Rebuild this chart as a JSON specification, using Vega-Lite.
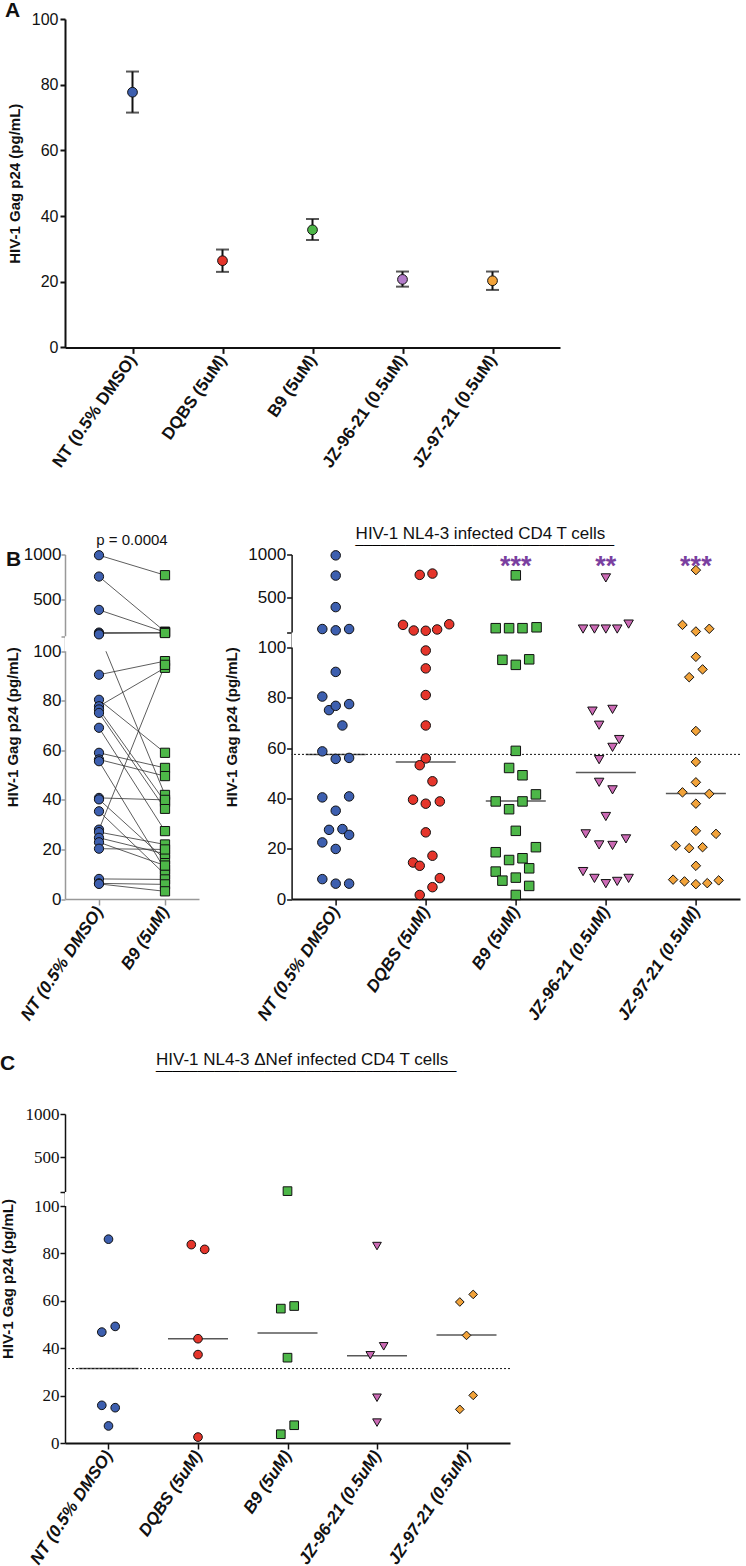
{
  "$schema": "https://vega.github.io/schema/vega-lite/v6.json",
  "padding": 0,
  "autosize": {"type": "pad"},
  "config": {
    "view": {"stroke": null},
    "font": "Liberation Sans",
    "axis": {"grid": false, "labelFont": "Liberation Sans", "titleFont": "Liberation Sans", "labelColor": "#111", "titleColor": "#111", "domainColor": "#111", "tickColor": "#111"},
    "title": {"font": "Liberation Sans", "color": "#111"}
  },
  "datasets": {
    "a": [
      {"g": "NT (0.5% DMSO)", "mean": 77.7, "lo": 71.5, "hi": 84.0},
      {"g": "DQBS (5uM)", "mean": 26.4, "lo": 23.0, "hi": 29.8},
      {"g": "B9 (5uM)", "mean": 35.8, "lo": 32.7, "hi": 39.1},
      {"g": "JZ-96-21 (0.5uM)", "mean": 20.7, "lo": 18.5, "hi": 23.1},
      {"g": "JZ-97-21 (0.5uM)", "mean": 20.3, "lo": 17.5, "hi": 23.1}
    ],
    "bl": [
      {"pair": 1, "g": "NT (0.5% DMSO)", "v": 992}, {"pair": 1, "g": "B9 (5uM)", "v": 772},
      {"pair": 2, "g": "NT (0.5% DMSO)", "v": 757}, {"pair": 2, "g": "B9 (5uM)", "v": 150},
      {"pair": 3, "g": "NT (0.5% DMSO)", "v": 390}, {"pair": 3, "g": "B9 (5uM)", "v": 145},
      {"pair": 4, "g": "NT (0.5% DMSO)", "v": 140}, {"pair": 4, "g": "B9 (5uM)", "v": 140},
      {"pair": 5, "g": "NT (0.5% DMSO)", "v": 130}, {"pair": 5, "g": "B9 (5uM)", "v": 135},
      {"pair": 6, "g": "NT (0.5% DMSO)", "v": 120}, {"pair": 6, "g": "B9 (5uM)", "v": 42},
      {"pair": 7, "g": "NT (0.5% DMSO)", "v": 90.5}, {"pair": 7, "g": "B9 (5uM)", "v": 96},
      {"pair": 8, "g": "NT (0.5% DMSO)", "v": 80.4}, {"pair": 8, "g": "B9 (5uM)", "v": 59},
      {"pair": 9, "g": "NT (0.5% DMSO)", "v": 77.8}, {"pair": 9, "g": "B9 (5uM)", "v": 93.3},
      {"pair": 10, "g": "NT (0.5% DMSO)", "v": 76.5}, {"pair": 10, "g": "B9 (5uM)", "v": 39.2},
      {"pair": 11, "g": "NT (0.5% DMSO)", "v": 75.1}, {"pair": 11, "g": "B9 (5uM)", "v": 36.4},
      {"pair": 12, "g": "NT (0.5% DMSO)", "v": 69.1}, {"pair": 12, "g": "B9 (5uM)", "v": 27.4},
      {"pair": 13, "g": "NT (0.5% DMSO)", "v": 59.0}, {"pair": 13, "g": "B9 (5uM)", "v": 52.9},
      {"pair": 14, "g": "NT (0.5% DMSO)", "v": 56.3}, {"pair": 14, "g": "B9 (5uM)", "v": 49.6},
      {"pair": 15, "g": "NT (0.5% DMSO)", "v": 55.6}, {"pair": 15, "g": "B9 (5uM)", "v": 11.9},
      {"pair": 16, "g": "NT (0.5% DMSO)", "v": 40.8}, {"pair": 16, "g": "B9 (5uM)", "v": 40},
      {"pair": 17, "g": "NT (0.5% DMSO)", "v": 40.2}, {"pair": 17, "g": "B9 (5uM)", "v": 16},
      {"pair": 18, "g": "NT (0.5% DMSO)", "v": 35.4}, {"pair": 18, "g": "B9 (5uM)", "v": 9.9},
      {"pair": 19, "g": "NT (0.5% DMSO)", "v": 28.0}, {"pair": 19, "g": "B9 (5uM)", "v": 94.5},
      {"pair": 20, "g": "NT (0.5% DMSO)", "v": 27.0}, {"pair": 20, "g": "B9 (5uM)", "v": 22},
      {"pair": 21, "g": "NT (0.5% DMSO)", "v": 24.7}, {"pair": 21, "g": "B9 (5uM)", "v": 18.2},
      {"pair": 22, "g": "NT (0.5% DMSO)", "v": 22.9}, {"pair": 22, "g": "B9 (5uM)", "v": 13.5},
      {"pair": 23, "g": "NT (0.5% DMSO)", "v": 20.3}, {"pair": 23, "g": "B9 (5uM)", "v": 20},
      {"pair": 24, "g": "NT (0.5% DMSO)", "v": 8.1}, {"pair": 24, "g": "B9 (5uM)", "v": 7.9},
      {"pair": 25, "g": "NT (0.5% DMSO)", "v": 6.3}, {"pair": 25, "g": "B9 (5uM)", "v": 5.9},
      {"pair": 26, "g": "NT (0.5% DMSO)", "v": 6.1}, {"pair": 26, "g": "B9 (5uM)", "v": 3.1}
    ],
    "br": [
      {"g": "NT (0.5% DMSO)", "v": 990, "s": 0}, {"g": "NT (0.5% DMSO)", "v": 757, "s": 0}, {"g": "NT (0.5% DMSO)", "v": 393, "s": 0},
      {"g": "NT (0.5% DMSO)", "v": 140, "s": -2}, {"g": "NT (0.5% DMSO)", "v": 125, "s": 0}, {"g": "NT (0.5% DMSO)", "v": 140, "s": 2},
      {"g": "NT (0.5% DMSO)", "v": 90.3, "s": 0}, {"g": "NT (0.5% DMSO)", "v": 80.5, "s": -2}, {"g": "NT (0.5% DMSO)", "v": 75.1, "s": -1},
      {"g": "NT (0.5% DMSO)", "v": 76.8, "s": 0}, {"g": "NT (0.5% DMSO)", "v": 77.5, "s": 2}, {"g": "NT (0.5% DMSO)", "v": 69.0, "s": 1},
      {"g": "NT (0.5% DMSO)", "v": 58.7, "s": -2}, {"g": "NT (0.5% DMSO)", "v": 55.7, "s": 0}, {"g": "NT (0.5% DMSO)", "v": 56.1, "s": 2},
      {"g": "NT (0.5% DMSO)", "v": 40.4, "s": -2}, {"g": "NT (0.5% DMSO)", "v": 40.8, "s": 2}, {"g": "NT (0.5% DMSO)", "v": 35.1, "s": 0},
      {"g": "NT (0.5% DMSO)", "v": 27.5, "s": -1}, {"g": "NT (0.5% DMSO)", "v": 27.8, "s": 1}, {"g": "NT (0.5% DMSO)", "v": 25.5, "s": 2},
      {"g": "NT (0.5% DMSO)", "v": 22.5, "s": -2}, {"g": "NT (0.5% DMSO)", "v": 19.9, "s": 0}, {"g": "NT (0.5% DMSO)", "v": 7.9, "s": -2},
      {"g": "NT (0.5% DMSO)", "v": 6.1, "s": 0}, {"g": "NT (0.5% DMSO)", "v": 6.1, "s": 2},
      {"g": "DQBS (5uM)", "v": 765, "s": -0.9}, {"g": "DQBS (5uM)", "v": 780, "s": 1.0}, {"g": "DQBS (5uM)", "v": 188, "s": -3.4},
      {"g": "DQBS (5uM)", "v": 123, "s": -1.8}, {"g": "DQBS (5uM)", "v": 120, "s": 0}, {"g": "DQBS (5uM)", "v": 135, "s": 1.7},
      {"g": "DQBS (5uM)", "v": 195, "s": 3.5}, {"g": "DQBS (5uM)", "v": 98.8, "s": 0}, {"g": "DQBS (5uM)", "v": 91.7, "s": 0},
      {"g": "DQBS (5uM)", "v": 81.1, "s": 0}, {"g": "DQBS (5uM)", "v": 69.0, "s": 0}, {"g": "DQBS (5uM)", "v": 55.9, "s": 0},
      {"g": "DQBS (5uM)", "v": 53.2, "s": -0.9}, {"g": "DQBS (5uM)", "v": 46.8, "s": 1.0}, {"g": "DQBS (5uM)", "v": 39.5, "s": -1.9},
      {"g": "DQBS (5uM)", "v": 37.9, "s": 0}, {"g": "DQBS (5uM)", "v": 38.8, "s": 2.1}, {"g": "DQBS (5uM)", "v": 26.5, "s": 0},
      {"g": "DQBS (5uM)", "v": 14.5, "s": -1.9}, {"g": "DQBS (5uM)", "v": 13.2, "s": -0.9}, {"g": "DQBS (5uM)", "v": 17.2, "s": 1.0},
      {"g": "DQBS (5uM)", "v": 8.3, "s": 2.1}, {"g": "DQBS (5uM)", "v": 4.7, "s": 1.0}, {"g": "DQBS (5uM)", "v": 1.6, "s": -0.9},
      {"g": "B9 (5uM)", "v": 760, "s": 0}, {"g": "B9 (5uM)", "v": 150, "s": -3}, {"g": "B9 (5uM)", "v": 150, "s": -1},
      {"g": "B9 (5uM)", "v": 150, "s": 1}, {"g": "B9 (5uM)", "v": 160, "s": 3.1}, {"g": "B9 (5uM)", "v": 95.1, "s": -2},
      {"g": "B9 (5uM)", "v": 93.1, "s": 0}, {"g": "B9 (5uM)", "v": 95.3, "s": 2}, {"g": "B9 (5uM)", "v": 58.9, "s": 0},
      {"g": "B9 (5uM)", "v": 52.1, "s": -1}, {"g": "B9 (5uM)", "v": 49.2, "s": 1}, {"g": "B9 (5uM)", "v": 41.6, "s": 3},
      {"g": "B9 (5uM)", "v": 38.8, "s": -3}, {"g": "B9 (5uM)", "v": 38.8, "s": 1}, {"g": "B9 (5uM)", "v": 35.7, "s": -1},
      {"g": "B9 (5uM)", "v": 27.1, "s": 0}, {"g": "B9 (5uM)", "v": 18.6, "s": -3}, {"g": "B9 (5uM)", "v": 15.5, "s": -1},
      {"g": "B9 (5uM)", "v": 16.2, "s": 1}, {"g": "B9 (5uM)", "v": 20.6, "s": 3}, {"g": "B9 (5uM)", "v": 10.9, "s": -3},
      {"g": "B9 (5uM)", "v": 12.2, "s": 2}, {"g": "B9 (5uM)", "v": 7.3, "s": -2}, {"g": "B9 (5uM)", "v": 8.5, "s": 0},
      {"g": "B9 (5uM)", "v": 5.2, "s": 2}, {"g": "B9 (5uM)", "v": 1.6, "s": 0},
      {"g": "JZ-96-21 (0.5uM)", "v": 730, "s": 0}, {"g": "JZ-96-21 (0.5uM)", "v": 140, "s": -3.4}, {"g": "JZ-96-21 (0.5uM)", "v": 140, "s": -1.7},
      {"g": "JZ-96-21 (0.5uM)", "v": 140, "s": 0}, {"g": "JZ-96-21 (0.5uM)", "v": 140, "s": 1.7}, {"g": "JZ-96-21 (0.5uM)", "v": 197, "s": 3.4},
      {"g": "JZ-96-21 (0.5uM)", "v": 74.7, "s": -2}, {"g": "JZ-96-21 (0.5uM)", "v": 75.4, "s": 1}, {"g": "JZ-96-21 (0.5uM)", "v": 69.1, "s": -1},
      {"g": "JZ-96-21 (0.5uM)", "v": 63.4, "s": 2}, {"g": "JZ-96-21 (0.5uM)", "v": 60.3, "s": 1}, {"g": "JZ-96-21 (0.5uM)", "v": 55.4, "s": -1},
      {"g": "JZ-96-21 (0.5uM)", "v": 46.4, "s": -1}, {"g": "JZ-96-21 (0.5uM)", "v": 43.4, "s": 1}, {"g": "JZ-96-21 (0.5uM)", "v": 32.8, "s": 0},
      {"g": "JZ-96-21 (0.5uM)", "v": 25.9, "s": -3}, {"g": "JZ-96-21 (0.5uM)", "v": 21.5, "s": -1}, {"g": "JZ-96-21 (0.5uM)", "v": 21.3, "s": 1},
      {"g": "JZ-96-21 (0.5uM)", "v": 23.9, "s": 3}, {"g": "JZ-96-21 (0.5uM)", "v": 10.9, "s": -3.4}, {"g": "JZ-96-21 (0.5uM)", "v": 8.2, "s": -1.7},
      {"g": "JZ-96-21 (0.5uM)", "v": 6.1, "s": 0}, {"g": "JZ-96-21 (0.5uM)", "v": 7.0, "s": 1.7}, {"g": "JZ-96-21 (0.5uM)", "v": 8.2, "s": 3.4},
      {"g": "JZ-97-21 (0.5uM)", "v": 820, "s": 0}, {"g": "JZ-97-21 (0.5uM)", "v": 188, "s": -2}, {"g": "JZ-97-21 (0.5uM)", "v": 112, "s": 0},
      {"g": "JZ-97-21 (0.5uM)", "v": 143, "s": 2}, {"g": "JZ-97-21 (0.5uM)", "v": 96.3, "s": 0}, {"g": "JZ-97-21 (0.5uM)", "v": 91.3, "s": 1},
      {"g": "JZ-97-21 (0.5uM)", "v": 88.2, "s": -1}, {"g": "JZ-97-21 (0.5uM)", "v": 66.8, "s": 0}, {"g": "JZ-97-21 (0.5uM)", "v": 54.5, "s": 0},
      {"g": "JZ-97-21 (0.5uM)", "v": 46.4, "s": 0}, {"g": "JZ-97-21 (0.5uM)", "v": 42.4, "s": -2}, {"g": "JZ-97-21 (0.5uM)", "v": 41.8, "s": 2},
      {"g": "JZ-97-21 (0.5uM)", "v": 37.9, "s": 0}, {"g": "JZ-97-21 (0.5uM)", "v": 27.1, "s": 0}, {"g": "JZ-97-21 (0.5uM)", "v": 25.9, "s": 3},
      {"g": "JZ-97-21 (0.5uM)", "v": 21.2, "s": -3}, {"g": "JZ-97-21 (0.5uM)", "v": 20.2, "s": -1}, {"g": "JZ-97-21 (0.5uM)", "v": 20.6, "s": 1},
      {"g": "JZ-97-21 (0.5uM)", "v": 13.2, "s": 0}, {"g": "JZ-97-21 (0.5uM)", "v": 7.7, "s": -3.4}, {"g": "JZ-97-21 (0.5uM)", "v": 7.0, "s": -1.7},
      {"g": "JZ-97-21 (0.5uM)", "v": 5.9, "s": 0}, {"g": "JZ-97-21 (0.5uM)", "v": 6.3, "s": 1.7}, {"g": "JZ-97-21 (0.5uM)", "v": 7.4, "s": 3.4}
    ],
    "br_med": [
      {"g": "NT (0.5% DMSO)", "m": 57.5}, {"g": "DQBS (5uM)", "m": 54.5}, {"g": "B9 (5uM)", "m": 39.0},
      {"g": "JZ-96-21 (0.5uM)", "m": 50.3}, {"g": "JZ-97-21 (0.5uM)", "m": 41.9}
    ],
    "br_sig": [
      {"g": "B9 (5uM)", "sig": "***"}, {"g": "JZ-96-21 (0.5uM)", "sig": "**"}, {"g": "JZ-97-21 (0.5uM)", "sig": "***"}
    ],
    "c": [
      {"g": "NT (0.5% DMSO)", "v": 86, "s": 0}, {"g": "NT (0.5% DMSO)", "v": 49.2, "s": 1}, {"g": "NT (0.5% DMSO)", "v": 46.8, "s": -1},
      {"g": "NT (0.5% DMSO)", "v": 15.9, "s": -1}, {"g": "NT (0.5% DMSO)", "v": 14.9, "s": 1}, {"g": "NT (0.5% DMSO)", "v": 7.2, "s": 0},
      {"g": "DQBS (5uM)", "v": 83.7, "s": -1}, {"g": "DQBS (5uM)", "v": 81.7, "s": 1}, {"g": "DQBS (5uM)", "v": 44.0, "s": 0},
      {"g": "DQBS (5uM)", "v": 37.3, "s": 0}, {"g": "DQBS (5uM)", "v": 2.5, "s": 0},
      {"g": "B9 (5uM)", "v": 110, "s": 0}, {"g": "B9 (5uM)", "v": 56.7, "s": -1}, {"g": "B9 (5uM)", "v": 57.8, "s": 1},
      {"g": "B9 (5uM)", "v": 36.0, "s": 0}, {"g": "B9 (5uM)", "v": 3.7, "s": -1}, {"g": "B9 (5uM)", "v": 7.5, "s": 1},
      {"g": "JZ-96-21 (0.5uM)", "v": 83.1, "s": 0}, {"g": "JZ-96-21 (0.5uM)", "v": 37.0, "s": -1}, {"g": "JZ-96-21 (0.5uM)", "v": 40.8, "s": 1},
      {"g": "JZ-96-21 (0.5uM)", "v": 19.1, "s": 0}, {"g": "JZ-96-21 (0.5uM)", "v": 8.6, "s": 0},
      {"g": "JZ-97-21 (0.5uM)", "v": 59.5, "s": -1}, {"g": "JZ-97-21 (0.5uM)", "v": 62.7, "s": 1}, {"g": "JZ-97-21 (0.5uM)", "v": 45.4, "s": 0},
      {"g": "JZ-97-21 (0.5uM)", "v": 20.1, "s": 1}, {"g": "JZ-97-21 (0.5uM)", "v": 14.2, "s": -1}
    ],
    "c_med": [
      {"g": "NT (0.5% DMSO)", "m": 31.4}, {"g": "DQBS (5uM)", "m": 44.0}, {"g": "B9 (5uM)", "m": 46.4},
      {"g": "JZ-96-21 (0.5uM)", "m": 36.8}, {"g": "JZ-97-21 (0.5uM)", "m": 45.6}
    ]
  },
  "columns": 1,
  "align": "none",
  "bounds": "full",
  "spacing": 28,
  "resolve": {"scale": {"fill": "independent", "shape": "independent"}},
  "concat": [
    {
      "columns": 1,
      "align": "none",
      "bounds": "full",
      "spacing": 53.5,
      "resolve": {"scale": {"fill": "independent", "shape": "independent"}},
      "concat": [
        {
          "width": 495,
          "height": 328.4,
          "title": {"text": "A", "anchor": "start", "frame": "group", "fontSize": 21, "fontWeight": "bold", "dx": -60, "dy": 10, "offset": 0},
          "data": {"name": "a"},
          "layer": [
            {
              "mark": {"type": "rule", "strokeWidth": 2, "color": "#111"},
              "encoding": {
                "x": {"field": "g", "type": "nominal", "sort": ["NT (0.5% DMSO)", "DQBS (5uM)", "B9 (5uM)", "JZ-96-21 (0.5uM)", "JZ-97-21 (0.5uM)"], "scale": {"type": "point", "padding": 0.75},
                  "axis": {"title": null, "labelAngle": -55, "labelFontSize": 17, "labelFontWeight": "bold", "domainWidth": 2, "tickWidth": 2, "tickSize": 6, "labelPadding": 3}},
                "y": {"field": "lo", "type": "quantitative", "title": "HIV-1 Gag p24 (pg/mL)", "scale": {"domain": [0, 100], "nice": false},
                  "axis": {"values": [0, 20, 40, 60, 80, 100], "labelFontSize": 16, "titleFontSize": 15, "titleFontWeight": "bold", "domainWidth": 2, "tickWidth": 2, "tickSize": 5, "labelPadding": 2, "titlePadding": 9}},
                "y2": {"field": "hi"}
              }
            },
            {
              "mark": {"type": "tick", "orient": "horizontal", "size": 13, "thickness": 2, "color": "#111"},
              "encoding": {
                "x": {"field": "g", "type": "nominal", "sort": ["NT (0.5% DMSO)", "DQBS (5uM)", "B9 (5uM)", "JZ-96-21 (0.5uM)", "JZ-97-21 (0.5uM)"]},
                "y": {"field": "lo", "type": "quantitative", "title": "HIV-1 Gag p24 (pg/mL)"}
              }
            },
            {
              "mark": {"type": "tick", "orient": "horizontal", "size": 13, "thickness": 2, "color": "#111"},
              "encoding": {
                "x": {"field": "g", "type": "nominal", "sort": ["NT (0.5% DMSO)", "DQBS (5uM)", "B9 (5uM)", "JZ-96-21 (0.5uM)", "JZ-97-21 (0.5uM)"]},
                "y": {"field": "hi", "type": "quantitative", "title": "HIV-1 Gag p24 (pg/mL)"}
              }
            },
            {
              "mark": {"type": "point", "filled": true, "size": 95, "stroke": "#111", "strokeWidth": 1, "opacity": 1},
              "encoding": {
                "x": {"field": "g", "type": "nominal", "sort": ["NT (0.5% DMSO)", "DQBS (5uM)", "B9 (5uM)", "JZ-96-21 (0.5uM)", "JZ-97-21 (0.5uM)"]},
                "y": {"field": "mean", "type": "quantitative", "title": "HIV-1 Gag p24 (pg/mL)"},
                "fill": {"field": "g", "type": "nominal", "legend": null,
                  "scale": {"domain": ["NT (0.5% DMSO)", "DQBS (5uM)", "B9 (5uM)", "JZ-96-21 (0.5uM)", "JZ-97-21 (0.5uM)"], "range": ["#3D5FAF", "#E5352B", "#4DB748", "#B27BC9", "#F2A33A"]}}
              }
            }
          ]
        },
        {
          "hconcat": [
            {
              "width": 134,
              "height": 344.5,
              "title": {"text": "p = 0.0004", "anchor": "middle", "fontSize": 15, "fontWeight": "normal", "offset": -2.5},
              "layer": [
                {
                  "data": {"name": "bl"},
                  "mark": {"type": "line", "stroke": "#333", "strokeWidth": 0.8},
                  "encoding": {
                    "x": {"field": "g", "type": "nominal", "sort": ["NT (0.5% DMSO)", "B9 (5uM)"], "scale": {"type": "point", "padding": 0.515},
                      "axis": {"title": null, "labelAngle": -56, "labelFontSize": 17, "labelFontWeight": "bold", "labelFontStyle": "italic", "domainColor": "#999", "tickColor": "#999", "domainWidth": 1.5, "tickWidth": 1.5, "tickSize": 6, "labelPadding": 3}},
                    "y": {"field": "v", "type": "quantitative", "title": "HIV-1 Gag p24 (pg/mL)",
                      "scale": {"domain": [0, 100, 100.001, 1000], "range": [344.5, 96.7, 81.7, 0], "nice": false, "zero": false},
                      "axis": {"values": [0, 20, 40, 60, 80, 100, 100.001, 500, 1000], "format": "d", "labelExpr": "datum.value > 100 && datum.value < 101 ? '' : datum.label", "labelFontSize": 17, "titleFontSize": 15, "titleFontWeight": "bold", "domainColor": "#999", "tickColor": "#999", "domainWidth": 1.5, "tickWidth": 1.5, "tickSize": 4, "labelPadding": 0, "titlePadding": 3}},
                    "detail": {"field": "pair", "type": "nominal"}
                  }
                },
                {
                  "data": {"values": [{"gap_low": 100, "gap_high": 100.001}]},
                  "mark": {"type": "rect", "fill": "white"},
                  "encoding": {
                    "y": {"field": "gap_low", "type": "quantitative", "title": "HIV-1 Gag p24 (pg/mL)"},
                    "y2": {"field": "gap_high"}
                  }
                },
                {
                  "data": {"name": "bl"},
                  "mark": {"type": "point", "filled": true, "size": 85, "stroke": "#111", "strokeWidth": 1, "opacity": 1},
                  "encoding": {
                    "x": {"field": "g", "type": "nominal", "sort": ["NT (0.5% DMSO)", "B9 (5uM)"]},
                    "y": {"field": "v", "type": "quantitative", "title": "HIV-1 Gag p24 (pg/mL)"},
                    "fill": {"field": "g", "type": "nominal", "legend": null, "scale": {"domain": ["NT (0.5% DMSO)", "B9 (5uM)"], "range": ["#3D5FAF", "#4DB748"]}},
                    "shape": {"field": "g", "type": "nominal", "legend": null, "scale": {"domain": ["NT (0.5% DMSO)", "B9 (5uM)"], "range": ["circle", "square"]}}
                  }
                }
              ]
            },
            {
              "width": 448.4,
              "height": 344.5,
              "title": {"text": "HIV-1 NL4-3 infected CD4 T cells", "subtitle": "_______________________________", "anchor": "start", "frame": "group", "dx": 64, "fontSize": 17, "fontWeight": "normal", "subtitleFontSize": 15, "subtitlePadding": -12, "offset": -1},
              "layer": [
                {
                  "data": {"values": [{"nt_median": 57.5}]},
                  "mark": {"type": "rule", "strokeDash": [2, 2], "strokeWidth": 1, "color": "#111"},
                  "encoding": {
                    "y": {"field": "nt_median", "type": "quantitative", "title": "HIV-1 Gag p24 (pg/mL)",
                      "scale": {"domain": [0, 100, 100.001, 1000], "range": [344.5, 93, 78, 0], "nice": false, "zero": false},
                      "axis": {"values": [0, 20, 40, 60, 80, 100, 100.001, 500, 1000], "format": "d", "labelExpr": "datum.value > 100 && datum.value < 101 ? '' : datum.label", "labelFontSize": 17, "titleFontSize": 15, "titleFontWeight": "bold", "domainWidth": 1.5, "tickWidth": 1.5, "tickSize": 5, "labelPadding": 1, "titlePadding": 8}}
                  }
                },
                {
                  "data": {"values": [{"gap_low": 100, "gap_high": 100.001}]},
                  "mark": {"type": "rect", "fill": "white"},
                  "encoding": {
                    "y": {"field": "gap_low", "type": "quantitative", "title": "HIV-1 Gag p24 (pg/mL)"},
                    "y2": {"field": "gap_high"}
                  }
                },
                {
                  "data": {"name": "br_med"},
                  "mark": {"type": "tick", "orient": "horizontal", "size": 60, "thickness": 1.5, "color": "#111"},
                  "encoding": {
                    "x": {"field": "g", "type": "nominal", "sort": ["NT (0.5% DMSO)", "DQBS (5uM)", "B9 (5uM)", "JZ-96-21 (0.5uM)", "JZ-97-21 (0.5uM)"], "scale": {"type": "point", "padding": 0.49},
                      "axis": {"title": null, "labelAngle": -56, "labelFontSize": 17, "labelFontWeight": "bold", "labelFontStyle": "italic", "domainWidth": 2, "tickWidth": 1.5, "tickSize": 6, "labelPadding": 3}},
                    "y": {"field": "m", "type": "quantitative", "title": "HIV-1 Gag p24 (pg/mL)"}
                  }
                },
                {
                  "data": {"name": "br"},
                  "mark": {"type": "point", "filled": true, "size": 90, "stroke": "#111", "strokeWidth": 1, "opacity": 1},
                  "encoding": {
                    "x": {"field": "g", "type": "nominal", "sort": ["NT (0.5% DMSO)", "DQBS (5uM)", "B9 (5uM)", "JZ-96-21 (0.5uM)", "JZ-97-21 (0.5uM)"]},
                    "xOffset": {"field": "s", "type": "quantitative", "scale": {"domain": [-10, 10], "range": [-67, 67]}},
                    "y": {"field": "v", "type": "quantitative", "title": "HIV-1 Gag p24 (pg/mL)"},
                    "fill": {"field": "g", "type": "nominal", "legend": null,
                      "scale": {"domain": ["NT (0.5% DMSO)", "DQBS (5uM)", "B9 (5uM)", "JZ-96-21 (0.5uM)", "JZ-97-21 (0.5uM)"], "range": ["#3D5FAF", "#E5352B", "#4DB748", "#CC6AB5", "#F2A33A"]}},
                    "shape": {"field": "g", "type": "nominal", "legend": null,
                      "scale": {"domain": ["NT (0.5% DMSO)", "DQBS (5uM)", "B9 (5uM)", "JZ-96-21 (0.5uM)", "JZ-97-21 (0.5uM)"], "range": ["circle", "circle", "square", "triangle-down", "diamond"]}}
                  }
                },
                {
                  "data": {"name": "br_sig"},
                  "mark": {"type": "text", "fontSize": 27, "fontWeight": "bold", "color": "#7A3FA0", "align": "center", "baseline": "alphabetic"},
                  "encoding": {
                    "x": {"field": "g", "type": "nominal", "sort": ["NT (0.5% DMSO)", "DQBS (5uM)", "B9 (5uM)", "JZ-96-21 (0.5uM)", "JZ-97-21 (0.5uM)"]},
                    "y": {"datum": 758, "type": "quantitative"},
                    "text": {"field": "sig"}
                  }
                }
              ]
            }
          ],
          "spacing": 92.6,
          "bounds": "flush",
          "title": {"text": "B", "anchor": "start", "frame": "group", "fontSize": 21, "fontWeight": "bold", "dx": -59, "offset": -45},
          "resolve": {"scale": {"fill": "independent", "shape": "independent"}}
        }
      ]
    },
    {
      "hconcat": [
        {
          "width": 445,
          "height": 329,
          "title": {"text": "HIV-1 NL4-3 ΔNef infected CD4 T cells", "subtitle": "____________________________________", "anchor": "start", "frame": "group", "dx": 91, "fontSize": 17, "fontWeight": "normal", "subtitleFontSize": 15, "subtitlePadding": -12, "offset": 32},
          "layer": [
            {
              "data": {"values": [{"nt_median": 31.4}]},
              "mark": {"type": "rule", "strokeDash": [2, 2], "strokeWidth": 1, "color": "#111"},
              "encoding": {
                "y": {"field": "nt_median", "type": "quantitative", "title": "HIV-1 Gag p24 (pg/mL)",
                  "scale": {"domain": [0, 100, 100.001, 1000], "range": [329, 92, 78, 0], "nice": false, "zero": false},
                  "axis": {"values": [0, 20, 40, 60, 80, 100, 100.001, 500, 1000], "format": "d", "labelExpr": "datum.value > 100 && datum.value < 101 ? '' : datum.label", "labelFont": "Liberation Sans Narrow", "labelFontSize": 17, "titleFontSize": 15, "titleFontWeight": "bold", "domainWidth": 1.5, "tickWidth": 1.5, "tickSize": 5, "labelPadding": 1, "titlePadding": 10}}
              }
            },
            {
              "data": {"values": [{"gap_low": 100, "gap_high": 100.001}]},
              "mark": {"type": "rect", "fill": "white"},
              "encoding": {
                "y": {"field": "gap_low", "type": "quantitative", "title": "HIV-1 Gag p24 (pg/mL)"},
                "y2": {"field": "gap_high"}
              }
            },
            {
              "data": {"name": "c_med"},
              "mark": {"type": "tick", "orient": "horizontal", "size": 60, "thickness": 1.5, "color": "#111"},
              "encoding": {
                "x": {"field": "g", "type": "nominal", "sort": ["NT (0.5% DMSO)", "DQBS (5uM)", "B9 (5uM)", "JZ-96-21 (0.5uM)", "JZ-97-21 (0.5uM)"], "scale": {"type": "point", "padding": 0.486},
                  "axis": {"title": null, "labelAngle": -56, "labelFontSize": 17, "labelFontWeight": "bold", "labelFontStyle": "italic", "domainWidth": 2, "tickWidth": 1.5, "tickSize": 6, "labelPadding": 3}},
                "y": {"field": "m", "type": "quantitative", "title": "HIV-1 Gag p24 (pg/mL)"}
              }
            },
            {
              "data": {"name": "c"},
              "mark": {"type": "point", "filled": true, "size": 75, "stroke": "#111", "strokeWidth": 1, "opacity": 1},
              "encoding": {
                "x": {"field": "g", "type": "nominal", "sort": ["NT (0.5% DMSO)", "DQBS (5uM)", "B9 (5uM)", "JZ-96-21 (0.5uM)", "JZ-97-21 (0.5uM)"]},
                "xOffset": {"field": "s", "type": "quantitative", "scale": {"domain": [-10, 10], "range": [-67, 67]}},
                "y": {"field": "v", "type": "quantitative", "title": "HIV-1 Gag p24 (pg/mL)"},
                "fill": {"field": "g", "type": "nominal", "legend": null,
                  "scale": {"domain": ["NT (0.5% DMSO)", "DQBS (5uM)", "B9 (5uM)", "JZ-96-21 (0.5uM)", "JZ-97-21 (0.5uM)"], "range": ["#3D5FAF", "#E5352B", "#4DB748", "#CC6AB5", "#F2A33A"]}},
                "shape": {"field": "g", "type": "nominal", "legend": null,
                  "scale": {"domain": ["NT (0.5% DMSO)", "DQBS (5uM)", "B9 (5uM)", "JZ-96-21 (0.5uM)", "JZ-97-21 (0.5uM)"], "range": ["circle", "circle", "square", "triangle-down", "diamond"]}}
              }
            }
          ]
        }
      ],
      "title": {"text": "C", "anchor": "start", "frame": "group", "fontSize": 21, "fontWeight": "bold", "dx": -65, "offset": -23},
      "resolve": {"scale": {"fill": "independent", "shape": "independent"}}
    }
  ]
}
